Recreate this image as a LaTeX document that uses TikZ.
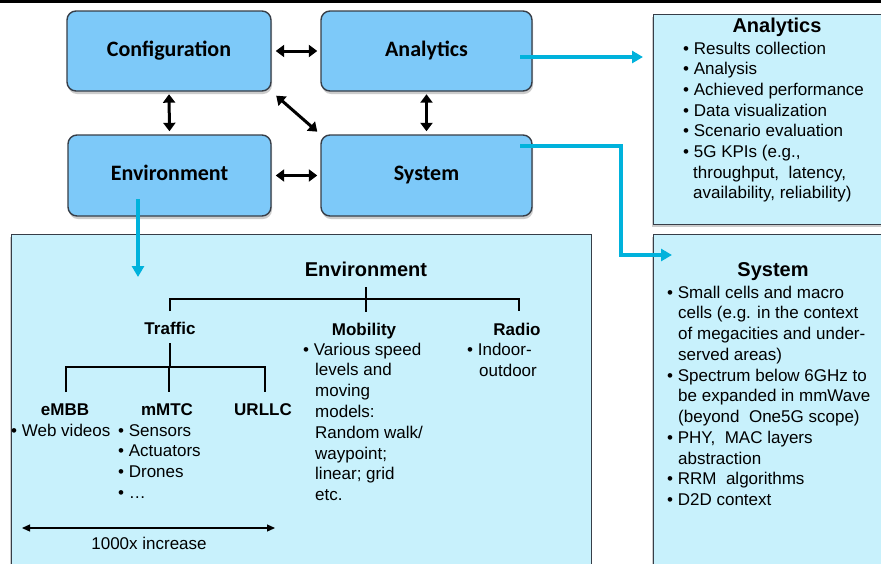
\documentclass[tikz,border=0pt]{standalone}
\usepackage{fontspec}
\setmainfont{Liberation Sans}
\newfontfamily\boxfont{Carlito}
\usetikzlibrary{arrows.meta,shadows,calc}
\definecolor{boxblue}{RGB}{125,201,249}
\definecolor{panelcyan}{RGB}{200,241,252}
\definecolor{linkcyan}{RGB}{0,178,220}
\definecolor{edgegray}{RGB}{55,62,72}
\begin{document}
\begin{tikzpicture}[x=1pt,y=-1pt,
  blockbox/.style={draw=edgegray, line width=1.4pt, fill=boxblue, rounded corners=9pt,
    inner sep=0pt, text height=15pt, text depth=5pt, font=\boxfont\bfseries\fontsize{22}{25}\selectfont,
    drop shadow={shadow xshift=1pt, shadow yshift=-3pt, opacity=.4}},
  panelbox/.style={draw=edgegray, line width=1.2pt, fill=panelcyan, inner sep=0pt,
    drop shadow={shadow xshift=-1.5pt, shadow yshift=-2pt, opacity=.4}},
  txt/.style={anchor=base west, inner sep=0pt, font=\fontsize{17}{20.7}\selectfont},
  ctxt/.style={anchor=base, inner sep=0pt, font=\fontsize{17}{20.7}\selectfont},
  subhead/.style={anchor=base, inner sep=0pt, font=\bfseries\fontsize{17}{20.7}\selectfont},
  paneltitle/.style={anchor=base, inner sep=0pt, font=\bfseries\fontsize{20}{24}\selectfont},
  duplex/.style={{Triangle[length=8.5pt,width=12pt]}-{Triangle[length=8.5pt,width=12pt]}, line width=3pt, black},
  feed/.style={-{Triangle[length=11pt,width=12pt]}, line width=3.8pt, linkcyan},
  tree/.style={line width=1.2pt, black},
  span/.style={{Triangle[length=8pt,width=7pt]}-{Triangle[length=8pt,width=7pt]}, line width=1.3pt, black}
]
\useasboundingbox (0,0) rectangle (881,563);
\fill[white] (0,0) rectangle (881,563);
\clip (0,0) rectangle (881,563);
\fill[black] (0,0) rectangle (881,3);

% panels
\node[panelbox, minimum width=250pt, minimum height=210pt, anchor=north west] (anap) at (653,14) {};
\node[panelbox, minimum width=250pt, minimum height=350pt, anchor=north west] (sysp) at (653,234) {};
\node[panelbox, minimum width=580pt, minimum height=350pt, anchor=north west] (envp) at (11,234) {};

% blocks
\node[blockbox, minimum width=204pt, minimum height=80pt] (conf) at (169,51) {Configuration};
\node[blockbox, minimum width=211pt, minimum height=80pt] (ana) at (426.5,51) {Analytics};
\node[blockbox, minimum width=203pt, minimum height=81pt] (env) at (169.5,175.5) {Environment};
\node[blockbox, minimum width=211pt, minimum height=81pt] (sys) at (426.5,175.5) {System};

% black double arrows
\draw[duplex, shorten <=4pt, shorten >=3pt] (conf.east) -- (ana.west);
\draw[duplex, shorten <=4pt, shorten >=3pt] (env.east) -- (sys.west);
\draw[duplex, shorten <=2.5pt, shorten >=3pt] (conf.south) -- (env.north);
\draw[duplex, shorten <=2.5pt, shorten >=3pt] (ana.south) -- (sys.north);
\draw[duplex, shorten <=6pt, shorten >=4pt] (conf.south east) -- (sys.north west);

% cyan feeds
\coordinate (a1) at (520,57);
\coordinate (a2) at (643,57);
\draw[feed] (a1) -- (a2);
\coordinate (s1) at (520,146);
\coordinate (s2) at (621,146);
\coordinate (s3) at (621,255);
\coordinate (s4) at (672,255);
\draw[feed] (s1) -- (s2) -- (s3) -- (s4);
\coordinate (e1) at (138,199);
\coordinate (e2) at (138,277);
\draw[feed] (e1) -- (e2);

% Analytics panel
\node[paneltitle] (anat) at (777,32) {Analytics};
\foreach \xx/\tt [count=\i] in {683/{• Results collection},683/{• Analysis},683/{• Achieved performance},
  683/{• Data visualization},683/{• Scenario evaluation},683/{• 5G KPIs (e.g.,},
  693/{throughput,\ \ latency,},693/{availability, reliability)}}
  \node[txt] (al\i) at (\xx,{54+20.7*(\i-1)}) {\tt};

% System panel
\node[paneltitle] (syst) at (773,276) {System};
\foreach \xx/\tt [count=\i] in {667/{• Small cells and macro},678/{cells (e.g. in the context},
  678/{of megacities and under-},678/{served areas)},667/{• Spectrum below 6GHz to},
  678/{be expanded in mmWave},678/{(beyond\ \ One5G scope)},667/{• PHY,\ \ MAC layers},
  678/{abstraction},667/{• RRM\ \ algorithms},667/{• D2D context}}
  \node[txt] (sl\i) at (\xx,{298+20.75*(\i-1)}) {\tt};

% Environment panel
\node[paneltitle] (envt) at (366,276) {Environment};
\node[subhead] (traf) at (170,334) {Traffic};
\node[subhead] (mob) at (364,335) {Mobility};
\node[subhead] (rad) at (517,335) {Radio};
\draw[tree] (envt.south |- 0,287) -- (366,312);
\draw[tree] (170,311) -- (170,299) -- (519,299) -- (519,311);

\node[subhead] (embb) at (65,415) {eMBB};
\node[subhead] (mmtc) at (167,415) {mMTC};
\node[subhead] (urllc) at (263,415) {URLLC};
\draw[tree] (traf.south |- 0,343) -- (170,367);
\draw[tree] (66,392) -- (66,367) -- (265,367) -- (265,392);
\draw[tree] (169,367) -- (169,392);

\node[txt] (wv) at (11,436) {• Web videos};
\foreach \tt [count=\i] in {{• Sensors},{• Actuators},{• Drones},{• …}}
  \node[txt] (ml\i) at (118,{436+20.8*(\i-1)}) {\tt};
\foreach \xx/\tt [count=\i] in {303/{• Various speed},315/{levels and},315/{moving},315/{models:},
  315/{Random walk/},315/{waypoint;},315/{linear; grid},315/{etc.}}
  \node[txt] (mo\i) at (\xx,{355+20.8*(\i-1)}) {\tt};
\node[txt] (r1) at (467,355) {• Indoor-};
\node[txt] (r2) at (479,376) {outdoor};

\coordinate (sp1) at (22,528);
\coordinate (sp2) at (275,528);
\draw[span] (sp1) -- (sp2);
\node[ctxt] (inc) at (149,549) {1000x increase};
\end{tikzpicture}
\end{document}
